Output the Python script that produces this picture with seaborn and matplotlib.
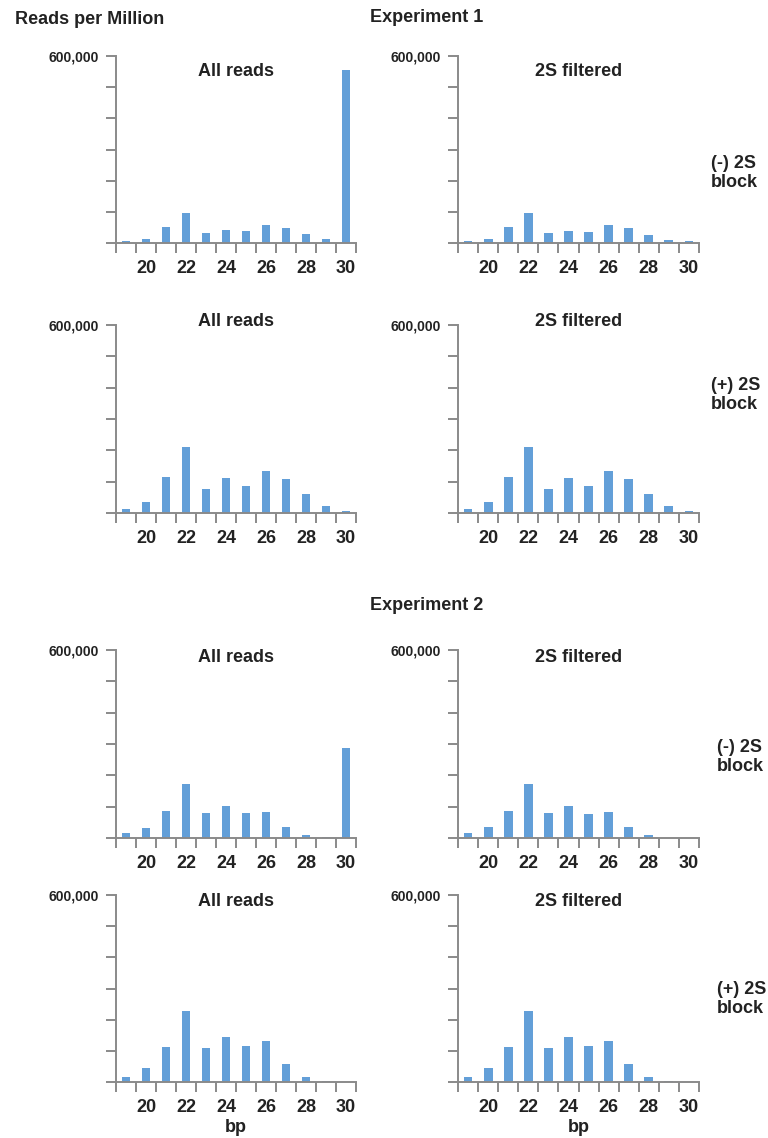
import numpy as np
import pandas as pd
import matplotlib
matplotlib.use("Agg")
import matplotlib.pyplot as plt
import seaborn as sns

# datos (reads per million)
bp = [19, 20, 21, 22, 23, 24, 25, 26, 27, 28, 29, 30]

exp1_minus_all = [6000, 14000, 51000, 97000, 33000, 42000, 39000, 59000, 47000, 30000, 12000, 555000]
exp1_minus_filt = [5000, 14000, 50000, 96000, 33000, 40000, 36000, 58000, 47000, 27000, 10000, 6000]
exp1_plus_all = [13000, 35000, 114000, 211000, 78000, 113000, 85000, 133000, 108000, 62000, 23000, 6000]
exp1_plus_filt = [13000, 35000, 114000, 211000, 78000, 113000, 85000, 133000, 108000, 62000, 23000, 6000]
exp2_minus_all = [16000, 33000, 87000, 171000, 79000, 102000, 80000, 84000, 35000, 11000, 4000, 288000]
exp2_minus_filt = [16000, 34000, 87000, 171000, 79000, 101000, 78000, 84000, 35000, 11000, 0, 0]
exp2_plus_all = [17000, 44000, 113000, 228000, 110000, 143000, 117000, 131000, 58000, 16000, 4000, 0]
exp2_plus_filt = [17000, 44000, 113000, 228000, 110000, 143000, 117000, 131000, 58000, 16000, 4000, 0]

panel_titles = ["All reads", "2S filtered"]
row_labels = ["(-) 2S\nblock", "(+) 2S\nblock", "(-) 2S\nblock", "(+) 2S\nblock"]
tick_labels = ["20", "22", "24", "26", "28", "30"]

series = [
    [exp1_minus_all, exp1_minus_filt],
    [exp1_plus_all, exp1_plus_filt],
    [exp2_minus_all, exp2_minus_filt],
    [exp2_plus_all, exp2_plus_filt],
]

sns.set_style("white")
plt.rcParams['font.family'] = ['Liberation Sans', 'DejaVu Sans']
plt.rcParams['font.weight'] = 'bold'

W, H = 768, 1138
fig = plt.figure(figsize=(W / 100, H / 100), dpi=100)

bar_color = "#639fd8"
axis_color = "#8a8a8a"
text_color = "#222222"

# posiciones en píxeles (top, baseline) por fila y (left, right) por columna
rows_px = [(56, 243), (325, 513), (650, 838), (895, 1082)]
cols_px = [(116, 356), (458, 699)]
title_y = [72, 321, 657, 902]
row_label_xy = [(711, 173), (711, 395), (717, 757), (717, 999)]


def px_axes(left, right, top, bottom):
    return fig.add_axes([left / W, 1 - bottom / H, (right - left) / W, (bottom - top) / H])


for r, (top, base) in enumerate(rows_px):
    for c, (left, right) in enumerate(cols_px):
        ax = px_axes(left, right, top, base)
        df = pd.DataFrame({"bp": [str(b) for b in bp], "rpm": series[r][c]})
        sns.barplot(data=df, x="bp", y="rpm", ax=ax, color=bar_color,
                    saturation=1, width=0.44, linewidth=0,
                    order=[str(b) for b in bp])
        ax.set_xlim(-0.5, len(bp) - 0.5)
        ax.set_ylim(0, 600000)

        # eje y: ticks cada 100,000, solo el de arriba con etiqueta
        ax.set_yticks(np.arange(0, 600001, 100000))
        ax.set_yticklabels([""] * 6 + ["600,000"])
        ax.tick_params(axis="y", left=True, direction="out", length=7, width=1.4,
                       color=axis_color, labelsize=10, pad=5, labelcolor=text_color)

        # eje x: marcas en los bordes de categoría, etiquetas pares
        ax.set_xticks(np.arange(-0.5, len(bp), 1.0), minor=True)
        ax.set_xticks([bp.index(int(t)) for t in tick_labels])
        ax.set_xticklabels(tick_labels)
        ax.tick_params(axis="x", which="major", bottom=False, length=0, labelsize=13,
                       pad=12, labelcolor=text_color)
        ax.tick_params(axis="x", which="minor", bottom=True, direction="out", length=7,
                       width=1.4, color=axis_color)

        ax.set_xlabel("")
        ax.set_ylabel("")
        for s in ["top", "right"]:
            ax.spines[s].set_visible(False)
        for s in ["left", "bottom"]:
            ax.spines[s].set_color(axis_color)
            ax.spines[s].set_linewidth(1.4)

        fig.text((left + right) / 2 / W, 1 - title_y[r] / H, panel_titles[c],
                 ha="center", va="center", fontsize=13, fontweight="bold",
                 color=text_color)

        if r == 3:
            fig.text((left + right) / 2 / W, 1 - 1128 / H, "bp",
                     ha="center", va="center", fontsize=13, fontweight="bold",
                     color=text_color)

    lx, ly = row_label_xy[r]
    fig.text(lx / W, 1 - ly / H, row_labels[r], ha="left",
             va="center", fontsize=13, fontweight="bold", color=text_color,
             linespacing=1.1)

fig.text(15 / W, 1 - 20 / H, "Reads per Million", ha="left", va="center",
         fontsize=13, fontweight="bold", color=text_color)
fig.text(427 / W, 1 - 17 / H, "Experiment 1", ha="center", va="center",
         fontsize=13, fontweight="bold", color=text_color)
fig.text(427 / W, 1 - 605 / H, "Experiment 2", ha="center", va="center",
         fontsize=13, fontweight="bold", color=text_color)

fig.savefig("out.png", dpi=100)
